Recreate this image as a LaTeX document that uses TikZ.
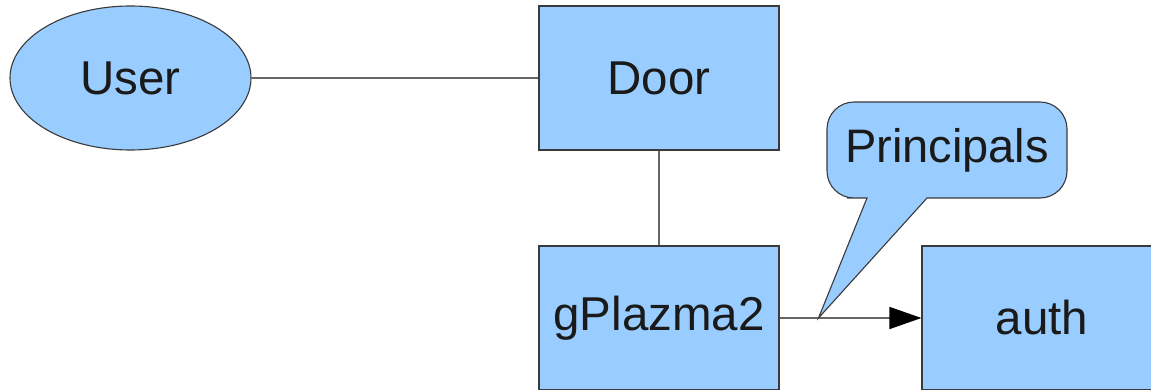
\documentclass[tikz,border=0pt]{standalone}
\usepackage{fontspec}
\setmainfont{Liberation Sans}
\usetikzlibrary{arrows.meta,shapes.geometric}
\definecolor{boxfill}{HTML}{99CCFF}
\definecolor{boxline}{HTML}{3A3A3A}
\definecolor{conn}{HTML}{666666}
\definecolor{txt}{HTML}{1A1A1A}
\tikzset{
  blk/.style={rectangle, draw=boxline, fill=boxfill, line width=1.1pt,
    minimum width=240pt, minimum height=144pt, inner sep=0pt,
    text=txt, font=\fontsize{47.5}{56}\selectfont},
  usr/.style={ellipse, draw=boxline, fill=boxfill, line width=1.1pt,
    minimum width=241pt, minimum height=144pt, inner sep=0pt,
    text=txt, font=\fontsize{47.5}{56}\selectfont},
  link/.style={draw=conn, line width=1.5pt},
  bubble/.style={draw=boxline, fill=boxfill, line width=1.1pt},
  lbl/.style={text=txt, font=\fontsize{47}{56}\selectfont, inner sep=0pt}
}
\begin{document}
\begin{tikzpicture}[x=1pt,y=-1pt]
\useasboundingbox (0,0) rectangle (1151,390);
\fill[white] (0,0) rectangle (1151,390);
\node[usr] (user) at (130.5,78) {User};
\node[blk] (door) at (659,78) {Door};
\node[blk] (gp) at (659,318) {gPlazma2};
\node[blk] (auth) at (1042,318) {auth};
\draw[link] (user.east) -- (door.west);
\draw[link] (door.south) -- (gp.north);
\coordinate (tip) at (818.5,318);
\draw[link,-{Triangle[length=32pt,width=22pt,fill=black,color=black]}] (gp.east) -- (auth.west);
\path[bubble] (847,198) [rounded corners=27pt] -- (827,198) -- (827,102) -- (1067,102) -- (1067,198) -- (960,198) [sharp corners] -- (927,198) -- (tip) -- (867,198) -- cycle;
\node[lbl] (princ) at (947,150) {Principals};
\end{tikzpicture}
\end{document}
